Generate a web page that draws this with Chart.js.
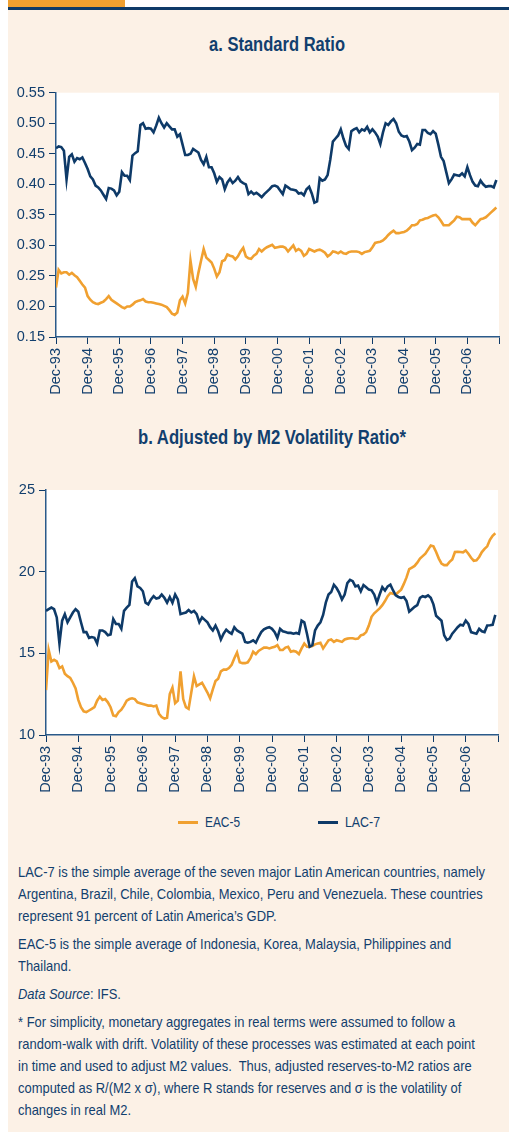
<!DOCTYPE html>
<html>
<head>
<meta charset="utf-8">
<script src="https://cdn.jsdelivr.net/npm/chart.js@4.4.1/dist/chart.umd.min.js"></script>
<style>
  body { margin: 0; background: #fff; width: 509px; height: 1132px; position: relative; overflow: hidden;
         font-family: "Liberation Sans", Arial, sans-serif; color: #123f6e; }
  #orangeBar { position: absolute; left: 8px; top: 0; width: 117px; height: 7px; background: #f0a030; }
  #blueRule { position: absolute; left: 8px; top: 7px; width: 501px; height: 3px; background: #0e3a68; }
  #panel { position: absolute; left: 8px; top: 10px; width: 501px; height: 1122px; background: #fcf1e6; }
  .title { position: absolute; white-space: nowrap; font-weight: bold; font-size: 21px; line-height: 24px; color: #123f6e; transform-origin: 0 0; }
  canvas { position: absolute; left: 8px; }
  .lg { position: absolute; top: 812px; height: 20px; font-size: 15.5px; line-height: 20px; white-space: nowrap; }
  .lg i { position: absolute; left: 0; top: 9px; width: 20px; height: 3px; }
  .lg span { position: absolute; left: 27px; top: 0; transform-origin: 0 0; }
  #notes { position: absolute; left: 18px; top: 861px; font-size: 14.5px; line-height: 22px; color: #123f6e; white-space: nowrap; transform-origin: 0 0; }
  #notes p { margin: 0 0 6px 0; }
</style>
</head>
<body>
<div id="orangeBar"></div>
<div id="blueRule"></div>
<div id="panel"></div>

<div class="title" id="titleA" style="top:32px;">a. Standard Ratio</div>
<canvas id="chartA" width="501" height="320" style="top:80px;"></canvas>

<div class="title" id="titleB" style="top:425px;">b. Adjusted by M2 Volatility Ratio*</div>
<canvas id="chartB" width="501" height="330" style="top:470px;"></canvas>

<div class="lg" style="left:178px;"><i style="background:#f0a030"></i><span id="lgEac">EAC-5</span></div>
<div class="lg" style="left:318px;"><i style="background:#0e3a68"></i><span id="lgLac">LAC-7</span></div>

<div id="notes">
  <p>LAC-7 is the simple average of the seven major Latin American countries, namely<br>Argentina, Brazil, Chile, Colombia, Mexico, Peru and Venezuela. These countries<br>represent 91 percent of Latin America’s GDP.</p>
  <p>EAC-5 is the simple average of Indonesia, Korea, Malaysia, Philippines and<br>Thailand.</p>
  <p><i>Data Source</i>: IFS.</p>
  <p>* For simplicity, monetary aggregates in real terms were assumed to follow a<br>random-walk with drift. Volatility of these processes was estimated at each point<br>in time and used to adjust M2 values.&nbsp; Thus, adjusted reserves-to-M2 ratios are<br>computed as R/(M2 x σ), where R stands for reserves and σ is the volatility of<br>changes in real M2.</p>
</div>

<script>
// tick labels, one per December (month index 0, 12, 24 ...)
const yearLabels = ["Dec-93", "Dec-94", "Dec-95", "Dec-96", "Dec-97", "Dec-98", "Dec-99",
    "Dec-00", "Dec-01", "Dec-02", "Dec-03", "Dec-04", "Dec-05", "Dec-06"];

// a. Standard ratio, monthly from Dec-93
const lac7Standard = [
    0.459, 0.462, 0.461, 0.455, 0.408, 0.445, 0.449, 0.437, 0.443, 0.441, 0.444, 0.435,
    0.425, 0.413, 0.408, 0.398, 0.395, 0.390, 0.383, 0.376, 0.394, 0.393, 0.390, 0.382,
    0.388, 0.420, 0.414, 0.414, 0.407, 0.447, 0.451, 0.454, 0.497, 0.500, 0.491, 0.492,
    0.491, 0.485, 0.496, 0.509, 0.500, 0.493, 0.500, 0.495, 0.490, 0.490, 0.478, 0.482,
    0.465, 0.448, 0.448, 0.450, 0.458, 0.455, 0.452, 0.440, 0.433, 0.445, 0.428, 0.428,
    0.418, 0.404, 0.412, 0.408, 0.392, 0.403, 0.409, 0.402, 0.406, 0.412, 0.405, 0.402,
    0.400, 0.384, 0.388, 0.384, 0.386, 0.383, 0.379, 0.384, 0.388, 0.392, 0.397, 0.398,
    0.396, 0.390, 0.384, 0.398, 0.395, 0.392, 0.391, 0.390, 0.385, 0.386, 0.382, 0.392,
    0.396, 0.385, 0.370, 0.372, 0.410, 0.406, 0.408, 0.415, 0.440, 0.470, 0.475, 0.480,
    0.490, 0.475, 0.463, 0.458, 0.487, 0.490, 0.492, 0.485, 0.490, 0.488, 0.494, 0.485,
    0.490, 0.485, 0.478, 0.466, 0.485, 0.500, 0.497, 0.503, 0.507, 0.500, 0.486, 0.480,
    0.478, 0.479, 0.470, 0.456, 0.460, 0.466, 0.465, 0.489, 0.489, 0.484, 0.482, 0.487,
    0.483, 0.465, 0.445, 0.438, 0.420, 0.402, 0.408, 0.416, 0.415, 0.414, 0.418, 0.413,
    0.428, 0.415, 0.404, 0.398, 0.397, 0.406, 0.400, 0.396, 0.397, 0.397, 0.395, 0.407
];
const eac5Standard = [
    0.231, 0.260, 0.254, 0.256, 0.256, 0.252, 0.255, 0.251, 0.248, 0.242, 0.236, 0.231,
    0.217, 0.211, 0.207, 0.205, 0.204, 0.206, 0.208, 0.212, 0.217, 0.211, 0.208, 0.205,
    0.202, 0.199, 0.197, 0.200, 0.200, 0.203, 0.207, 0.209, 0.210, 0.212, 0.208, 0.207,
    0.207, 0.206, 0.205, 0.204, 0.203, 0.201, 0.199, 0.194, 0.188, 0.186, 0.190, 0.210,
    0.216, 0.205, 0.222, 0.275, 0.245, 0.232, 0.255, 0.275, 0.294, 0.280, 0.276, 0.272,
    0.262, 0.249, 0.256, 0.274, 0.276, 0.285, 0.283, 0.282, 0.277, 0.282, 0.290, 0.296,
    0.282, 0.279, 0.278, 0.283, 0.286, 0.294, 0.290, 0.294, 0.297, 0.299, 0.301, 0.296,
    0.297, 0.298, 0.298, 0.296, 0.290, 0.295, 0.300, 0.291, 0.294, 0.291, 0.283, 0.286,
    0.294, 0.292, 0.290, 0.292, 0.293, 0.291, 0.288, 0.282, 0.285, 0.290, 0.289, 0.287,
    0.290, 0.287, 0.286, 0.289, 0.290, 0.290, 0.290, 0.289, 0.286, 0.289, 0.290, 0.291,
    0.297, 0.304, 0.305, 0.306, 0.308, 0.312, 0.317, 0.321, 0.324, 0.320, 0.320, 0.321,
    0.322, 0.324, 0.328, 0.333, 0.333, 0.335, 0.341, 0.342, 0.344, 0.345, 0.347, 0.349,
    0.350, 0.346, 0.340, 0.333, 0.333, 0.333, 0.337, 0.341, 0.347, 0.346, 0.343, 0.343,
    0.343, 0.343, 0.337, 0.333, 0.338, 0.343, 0.344, 0.346, 0.350, 0.354, 0.358, 0.362
];

// b. Adjusted by M2 volatility, monthly from Dec-93
const lac7Adjusted = [
    17.6, 17.7, 17.8, 17.7, 17.2, 15.6, 17.0, 17.4, 16.9, 17.2, 17.5, 17.7,
    17.55, 16.9, 16.3, 16.3, 15.95, 16.0, 15.95, 15.6, 16.4, 16.4, 16.3, 16.1,
    16.15, 17.1, 16.8, 16.8, 16.5, 17.6, 17.8, 17.96, 19.4, 19.6, 19.1, 19.0,
    18.8, 18.1, 18.0, 18.3, 18.5, 18.35, 18.4, 18.6, 18.4, 18.1, 18.45, 18.1,
    18.6, 18.3, 17.4, 17.45, 17.5, 17.65, 17.5, 17.6, 17.4, 16.9, 17.2, 17.05,
    16.9, 16.6, 16.4, 16.7, 16.35, 15.85, 16.2, 16.45, 16.3, 16.2, 16.6, 16.4,
    16.3, 16.2, 15.7, 15.65, 15.7, 15.8, 15.65, 16.0, 16.3, 16.47, 16.55, 16.6,
    16.5, 16.3, 15.95, 16.5, 16.35, 16.3, 16.25, 16.25, 16.2, 16.25, 16.2, 17.0,
    16.9, 16.2, 15.4, 15.5, 16.4, 16.7, 16.9, 17.35, 18.1, 18.6, 18.75, 19.2,
    19.0, 18.7, 18.3, 18.6, 19.3, 19.5, 19.42, 19.1, 19.15, 18.8, 19.18, 19.04,
    18.9, 18.86, 18.6, 18.1, 18.6, 19.05, 18.84, 19.1, 19.2, 18.85, 18.55, 18.45,
    18.4, 18.45, 18.2, 17.55, 17.7, 17.85, 17.95, 18.4, 18.5, 18.45, 18.55, 18.4,
    18.0, 17.3, 17.15, 17.0, 16.1, 15.82, 15.9, 16.2, 16.4, 16.6, 16.75, 16.7,
    17.0, 16.8, 16.3, 16.25, 16.2, 16.5, 16.35, 16.3, 16.7, 16.72, 16.75, 17.35
];
const eac5Adjusted = [
    12.75, 15.2, 14.5, 14.6, 14.5, 14.1, 14.2, 13.75, 13.6, 13.5, 13.2, 12.85,
    12.15, 11.7, 11.45, 11.4, 11.5, 11.6, 11.7, 12.1, 12.35, 12.15, 12.2, 12.0,
    11.7, 11.2, 11.15, 11.4, 11.55, 11.8, 12.1, 12.2, 12.25, 12.2, 12.0, 11.95,
    11.9, 11.85, 11.8, 11.8, 11.75, 11.8, 11.3, 11.1, 11.0, 11.05, 12.5, 12.9,
    11.95, 12.1, 13.9, 12.2, 11.7, 11.6, 12.6, 13.6, 13.0, 13.1, 13.2, 12.9,
    12.6, 12.25, 12.8, 13.3, 13.45, 13.9, 14.0, 14.0, 14.1, 14.3, 14.7, 15.05,
    14.45, 14.4, 14.4, 14.45, 14.7, 15.1, 14.95, 15.15, 15.25, 15.35, 15.35, 15.3,
    15.35, 15.4, 15.5, 15.2, 15.2, 15.35, 15.4, 15.1, 15.15, 15.1, 14.95, 15.3,
    15.6, 15.4, 15.4, 15.45, 15.55, 15.6, 15.65, 15.3, 15.55, 15.8, 15.85, 15.7,
    15.8, 15.75, 15.7, 15.85, 15.9, 15.92, 15.92, 15.88, 15.9, 16.1, 16.15, 16.3,
    16.7, 17.24, 17.45, 17.6, 17.75, 17.95, 18.2, 18.5, 18.7, 18.65, 18.6, 18.75,
    18.9, 19.25, 19.65, 20.15, 20.25, 20.35, 20.55, 20.8, 20.95, 21.1, 21.35, 21.6,
    21.55, 21.2, 20.8, 20.5, 20.4, 20.4, 20.6, 20.75, 21.2, 21.22, 21.2, 21.18,
    21.3, 21.1, 20.85, 20.67, 20.7, 20.9, 21.2, 21.4, 21.55, 21.95, 22.2, 22.35
];

const NAVY = "#0e3a68";
const ORANGE = "#f0a030";

Chart.defaults.font.family = "'Liberation Sans', Arial, sans-serif";
Chart.defaults.color = "#123f6e";

// squeeze a text block to the width it has in the original (narrow typeface)
function fitWidth(id, targetWidth, centerX) {
    const el = document.getElementById(id);
    const w = el.getBoundingClientRect().width;
    el.style.transform = "scaleX(" + (targetWidth / w) + ")";
    if (centerX !== undefined) el.style.left = (centerX - targetWidth / 2) + "px";
}
fitWidth("titleA", 136, 277);
fitWidth("titleB", 268, 272);
fitWidth("lgEac", 35);
fitWidth("lgLac", 35);
document.getElementById("notes").style.display = "inline-block";
fitWidth("notes", 467);

// white plot area on the cream panel
const plotBg = {
    id: "plotBg",
    beforeDraw(chart) {
        const { ctx, chartArea } = chart;
        ctx.save();
        ctx.fillStyle = "#ffffff";
        ctx.fillRect(chartArea.left, chartArea.top, chartArea.right - chartArea.left, chartArea.bottom - chartArea.top);
        ctx.restore();
    }
};

function toPoints(values) {
    return values.map((v, i) => ({ x: i, y: v }));
}

function makeChart(canvasId, eac, lac, yOpts, box) {
    const ctx = document.getElementById(canvasId).getContext("2d");
    return new Chart(ctx, {
        type: "line",
        data: {
            datasets: [
                { label: "LAC-7", data: toPoints(lac), borderColor: NAVY, borderWidth: 2.6, pointRadius: 0, tension: 0 },
                { label: "EAC-5", data: toPoints(eac), borderColor: ORANGE, borderWidth: 2.6, pointRadius: 0, tension: 0 }
            ]
        },
        options: {
            responsive: false,
            animation: false,
            devicePixelRatio: 1,
            layout: { padding: { left: 0, right: box.right, top: box.top, bottom: 0 } },
            plugins: { legend: { display: false }, tooltip: { enabled: false } },
            scales: {
                x: {
                    type: "linear",
                    min: 0,
                    max: 168,
                    afterFit: (scale) => {
                        scale.height = box.xHeight;
                        scale.paddingLeft = 0;
                        scale.paddingRight = 0;
                    },
                    afterBuildTicks: (scale) => {
                        scale.ticks = [];
                        for (let v = 0; v <= 168; v += 12) scale.ticks.push({ value: v });
                    },
                    ticks: {
                        autoSkip: false,
                        minRotation: 90,
                        maxRotation: 90,
                        padding: 4,
                        font: { size: 14.5 },
                        callback: (v) => yearLabels[v / 12] || ""
                    },
                    grid: { drawOnChartArea: false, drawTicks: true, tickLength: 7, color: NAVY, lineWidth: 1 },
                    border: { color: "#2a5a8a", width: 1.5 }
                },
                y: Object.assign({
                    afterFit: (scale) => { scale.width = box.yWidth; },
                    grid: { drawOnChartArea: false, drawTicks: true, tickLength: 7, color: NAVY, lineWidth: 1 },
                    border: { color: "#2a5a8a", width: 1.5 }
                }, yOpts)
            }
        },
        plugins: [plotBg]
    });
}

makeChart("chartA", eac5Standard, lac7Standard, {
    min: 0.15, max: 0.55,
    ticks: { stepSize: 0.05, padding: 4, font: { size: 14.5 }, callback: (v) => v.toFixed(2) }
}, { right: 10, top: 12, xHeight: 63, yWidth: 48 });

makeChart("chartB", eac5Adjusted, lac7Adjusted, {
    min: 10, max: 25,
    ticks: { stepSize: 5, padding: 4, font: { size: 14.5 }, callback: (v) => String(v) }
}, { right: 11, top: 20, xHeight: 65, yWidth: 38 });
</script>
</body>
</html>
